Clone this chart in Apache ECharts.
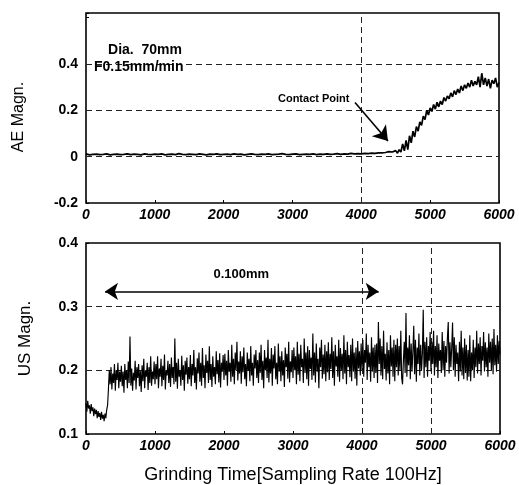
<!DOCTYPE html>
<html><head><meta charset="utf-8">
<script src="https://cdn.jsdelivr.net/npm/echarts@6/dist/echarts.min.js"></script>
<style>html,body{margin:0;padding:0;background:#fff}#c{width:519px;height:485px}</style>
</head><body><div id="c"></div>
<script>
const xTicks = [0, 1000, 2000, 3000, 4000, 5000, 6000];
const aeTicks = [-0.2, 0, 0.2, 0.4];
const usTicks = [0.1, 0.2, 0.3, 0.4];

// AE magnitude: flat part sampled every 50, rise part sampled every 25
const aeFlatStep = 50;
const aeFlat = [
0.012,0.008,0.01,0.011,0.009,0.01,0.012,0.008,0.01,0.011,
0.009,0.01,0.012,0.009,0.011,0.01,0.008,0.012,0.01,0.009,
0.011,0.01,0.012,0.008,0.01,0.011,0.009,0.013,0.01,0.009,
0.011,0.01,0.009,0.012,0.01,0.008,0.011,0.01,0.012,0.009,
0.01,0.011,0.009,0.012,0.01,0.011,0.008,0.01,0.012,0.01,
0.009,0.011,0.01,0.012,0.009,0.01,0.011,0.013,0.01,0.009,
0.011,0.012,0.009,0.01,0.011,0.01,0.012,0.009,0.011,0.01,
0.012,0.01,0.011,0.013,0.01,0.012,0.011,0.014,0.012,0.013,
0.012,0.014,0.013,0.015,0.014,0.016
];
const aeRiseStart = 4275;
const aeRiseStep = 25;
const aeRise = [
0.012,0.016,0.011,0.018,0.013,0.022,0.014,0.02,0.012,0.026,0.015,0.03,
0.02,0.055,0.025,0.07,0.03,0.09,
0.06,0.11,0.085,0.13,0.11,0.15,
0.135,0.175,0.16,0.2,0.18,0.21,
0.195,0.225,0.205,0.235,0.215,0.24,0.225,0.255,0.24,0.262,
0.25,0.275,0.258,0.285,0.268,0.292,0.275,0.305,0.285,0.31,
0.295,0.318,0.3,0.33,0.305,0.325,0.31,0.345,0.3,0.36,
0.31,0.34,0.305,0.335,0.295,0.33,0.315,0.34,0.3,0.32
];

// US magnitude sampled every 12.5
const usStep = 12.5;
const usValues = [
0.148,0.135,0.152,0.14,0.145,0.132,0.147,0.136,0.142,0.128,0.14,0.131,0.138,0.125,0.136,0.127,0.133,0.122,0.135,0.124,0.13,0.12,0.132,0.125,0.138,
0.145,0.17,0.2,0.178,0.205,0.17,0.195,0.18,0.21,0.168,0.2,0.185,0.212,0.172,0.198,
0.182,0.207,0.175,0.198,0.165,0.21,0.185,0.2,0.172,0.214,0.18,0.253,0.176,0.203,0.168,0.196,0.184,0.215,0.17,0.205,
0.188,0.21,0.175,0.199,0.166,0.208,0.183,0.218,0.172,0.2,0.19,0.212,0.169,0.205,0.18,0.222,0.176,0.198,0.186,0.214,
0.178,0.21,0.186,0.222,0.172,0.203,0.19,0.218,0.175,0.207,0.185,0.225,0.17,0.2,0.192,0.215,0.18,0.21,0.174,0.22,
0.188,0.205,0.178,0.25,0.182,0.212,0.171,0.218,0.19,0.2,0.176,0.223,0.185,0.208,0.168,0.215,0.193,0.22,0.179,0.205,
0.186,0.224,0.175,0.21,0.192,0.232,0.18,0.205,0.17,0.219,0.195,0.228,0.182,0.212,0.176,0.235,0.188,0.208,0.172,0.225,
0.196,0.215,0.18,0.238,0.185,0.21,0.174,0.222,0.19,0.205,0.178,0.23,0.194,0.216,0.181,0.227,0.173,0.212,0.198,0.224,
0.185,0.226,0.192,0.215,0.176,0.232,0.198,0.212,0.182,0.24,0.19,0.218,0.178,0.228,0.2,0.245,0.184,0.214,0.195,0.23,
0.179,0.222,0.197,0.236,0.186,0.21,0.175,0.228,0.2,0.218,0.183,0.238,0.192,0.212,0.176,0.225,0.203,0.232,0.188,0.216,
0.18,0.228,0.196,0.24,0.185,0.215,0.172,0.232,0.2,0.22,0.188,0.248,0.181,0.218,0.195,0.235,0.176,0.225,0.203,0.238,
0.186,0.212,0.178,0.242,0.198,0.222,0.183,0.23,0.192,0.216,0.174,0.236,0.205,0.226,0.187,0.245,0.181,0.214,0.197,0.232,
0.188,0.236,0.2,0.222,0.178,0.245,0.193,0.226,0.183,0.24,0.205,0.218,0.18,0.25,0.196,0.228,0.186,0.238,0.176,0.232,
0.202,0.22,0.185,0.258,0.192,0.228,0.181,0.242,0.198,0.218,0.172,0.236,0.205,0.248,0.187,0.225,0.194,0.24,0.183,0.23,
0.197,0.244,0.185,0.226,0.202,0.252,0.188,0.23,0.176,0.24,0.206,0.222,0.19,0.248,0.182,0.235,0.2,0.226,0.186,0.255,
0.195,0.232,0.178,0.245,0.205,0.224,0.189,0.24,0.183,0.25,0.198,0.228,0.187,0.236,0.176,0.246,0.203,0.23,0.192,0.242,
0.2,0.248,0.19,0.232,0.212,0.258,0.185,0.24,0.205,0.228,0.182,0.252,0.198,0.236,0.188,0.24,0.196,0.242,0.18,0.276,
0.21,0.25,0.192,0.238,0.186,0.262,0.202,0.226,0.184,0.244,0.195,0.232,0.178,0.255,0.206,0.236,0.19,0.248,0.183,0.24,
0.205,0.25,0.192,0.238,0.2,0.262,0.188,0.178,0.215,0.245,0.196,0.29,0.19,0.236,0.208,0.255,0.186,0.242,0.198,0.23,
0.27,0.194,0.248,0.182,0.236,0.21,0.258,0.192,0.24,0.2,0.226,0.295,0.188,0.245,0.205,0.252,0.19,0.238,0.215,0.26,
0.198,0.245,0.21,0.262,0.192,0.238,0.205,0.255,0.188,0.242,0.215,0.232,0.196,0.26,0.2,0.246,0.19,0.238,0.212,0.25,
0.276,0.195,0.244,0.205,0.235,0.275,0.2,0.252,0.19,0.24,0.21,0.228,0.183,0.245,0.198,0.262,0.192,0.236,0.186,0.25,
0.196,0.24,0.184,0.232,0.19,0.255,0.183,0.228,0.2,0.248,0.188,0.236,0.205,0.262,0.195,0.242,0.21,0.252,0.192,0.238,
0.215,0.26,0.198,0.244,0.205,0.236,0.19,0.258,0.212,0.245,0.2,0.25,0.194,0.265,0.208,0.24,0.198,0.255,0.21,0.246,
0.225
];
const aeGridY = [0, 0.2, 0.4];
const aeGridX = [4000];
const usGridY = [0.2, 0.3];
const usGridX = [4000, 5000];

const aeData = aeFlat.map((v, i) => [i * aeFlatStep, v])
  .concat(aeRise.map((v, i) => [aeRiseStart + i * aeRiseStep, v]));
const usData = usValues.map((v, i) => [i * usStep, v]);

const FONT = 'Liberation Sans, Arial, sans-serif';
const gridStyle = {color: '#222', width: 1, type: [6, 4]};

function xAxisFor(idx) {
  return {
    type: 'value', gridIndex: idx, min: 0, max: 6000, interval: 1000,
    axisLine: {show: false, onZero: false}, splitLine: {show: false},
    axisTick: {show: true, inside: true, length: 3, lineStyle: {color: '#000'}},
    axisLabel: {color: '#000', fontFamily: FONT, fontSize: 14, fontStyle: 'italic', fontWeight: 'bold', margin: 5,
      formatter: v => xTicks.includes(v) ? String(v) : ''},
    name: idx === 1 ? 'Grinding Time[Sampling Rate 100Hz]' : '',
    nameLocation: 'middle', nameGap: 32,
    nameTextStyle: {color: '#000', fontFamily: FONT, fontSize: 18}
  };
}
function gridMarks(xs, ys) {
  return xs.map(x => ({xAxis: x})).concat(ys.map(y => ({yAxis: y})));
}

const option = {
  animation: false,
  backgroundColor: '#fff',
  grid: [
    {left: 86, right: 20, top: 13, height: 190, show: true, borderColor: '#000', borderWidth: 1.6, backgroundColor: 'transparent'},
    {left: 86, right: 19, top: 243, height: 191, show: true, borderColor: '#000', borderWidth: 1.6, backgroundColor: 'transparent'}
  ],
  xAxis: [xAxisFor(0), xAxisFor(1)],
  yAxis: [
    {type: 'value', gridIndex: 0, min: -0.2, max: 0.62, interval: 0.2,
      axisLine: {show: false, onZero: false}, splitLine: {show: false},
      axisTick: {show: true, inside: true, length: 3, lineStyle: {color: '#000'}},
      axisLabel: {color: '#000', fontFamily: FONT, fontSize: 14, fontWeight: 'bold', margin: 8,
        formatter: v => { const r = Math.round(v * 10) / 10; return aeTicks.includes(r) ? String(r) : ''; }},
      name: 'AE Magn.', nameLocation: 'middle', nameGap: 59,
      nameTextStyle: {color: '#000', fontFamily: FONT, fontSize: 16, padding: [0, 18, 0, 0]}},
    {type: 'value', gridIndex: 1, min: 0.1, max: 0.4, interval: 0.1,
      axisLine: {show: false, onZero: false}, splitLine: {show: false},
      axisTick: {show: true, inside: true, length: 3, lineStyle: {color: '#000'}},
      axisLabel: {color: '#000', fontFamily: FONT, fontSize: 14, fontWeight: 'bold', margin: 8,
        formatter: v => { const r = Math.round(v * 10) / 10; return usTicks.includes(r) ? String(r) : ''; }},
      name: 'US Magn.', nameLocation: 'middle', nameGap: 52,
      nameTextStyle: {color: '#000', fontFamily: FONT, fontSize: 17}}
  ],
  series: [
    {type: 'line', xAxisIndex: 0, yAxisIndex: 0, data: aeData, showSymbol: false, symbol: 'none',
      lineStyle: {color: '#000', width: 1.7}, z: 5,
      markLine: {silent: true, symbol: 'none', label: {show: false}, lineStyle: gridStyle, data: gridMarks(aeGridX, aeGridY), z: 1}},
    {type: 'line', xAxisIndex: 1, yAxisIndex: 1, data: usData, showSymbol: false, symbol: 'none',
      lineStyle: {color: '#000', width: 1.15}, z: 5,
      markLine: {silent: true, symbol: 'none', label: {show: false}, lineStyle: gridStyle, data: gridMarks(usGridX, usGridY), z: 1}},
    {type: 'scatter', xAxisIndex: 0, yAxisIndex: 0, data: [], silent: true,
      markLine: {silent: true, symbol: ['none', 'arrow'], symbolSize: 14, label: {show: false},
        lineStyle: {color: '#000', width: 1.6, type: 'solid'},
        data: [[{coord: [3908, 0.234]}, {coord: [4387, 0.068]}]]},
      markPoint: {silent: true, symbol: 'circle', symbolSize: 0,
        label: {show: true, color: '#000', fontFamily: FONT, fontWeight: 'bold', fontSize: 14, align: 'left'},
        data: [
          {coord: [320, 0.461], value: 'Dia.  70mm', label: {formatter: 'Dia.  70mm'}},
          {coord: [116, 0.386], value: 'F0.15mm/min', label: {formatter: 'F0.15mm/min'}},
          {coord: [2789, 0.248], value: 'Contact Point', label: {formatter: 'Contact Point', fontSize: 11}}
        ]}},
    {type: 'scatter', xAxisIndex: 1, yAxisIndex: 1, data: [], silent: true,
      markLine: {silent: true, symbol: ['arrow', 'arrow'], symbolSize: 13, label: {show: false},
        lineStyle: {color: '#000', width: 1.6, type: 'solid'},
        data: [[{coord: [276, 0.324]}, {coord: [4242, 0.324]}]]},
      markPoint: {silent: true, symbol: 'circle', symbolSize: 0,
        label: {show: true, color: '#000', fontFamily: FONT, fontWeight: 'bold', fontSize: 13},
        data: [{coord: [2250, 0.35], value: '0.100mm', label: {formatter: '0.100mm'}}]}}
  ]
};
const chart = echarts.init(document.getElementById('c'), null, {renderer: 'canvas'});
chart.setOption(option);
</script></body></html>
